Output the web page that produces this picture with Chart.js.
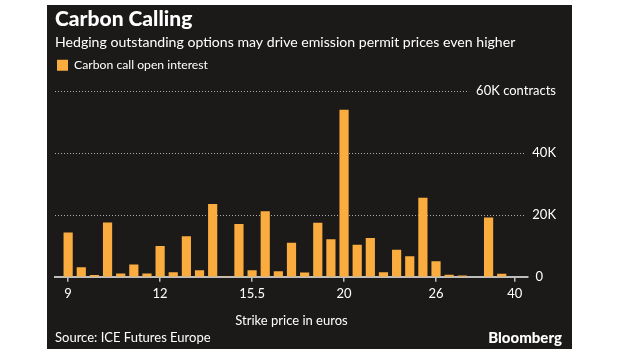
<!DOCTYPE html>
<html><head><meta charset="utf-8">
<script src="https://cdn.jsdelivr.net/npm/chart.js@4"></script>
<style>
html,body{margin:0;padding:0;background:#fff;width:620px;height:355px;overflow:hidden;font-family:Lato,sans-serif}
#box{position:absolute;left:47px;top:5px;width:525px;height:344px;background:#1c1a19}
#c{position:absolute;left:0;top:0}
.foot{position:absolute;color:#fff;font-size:13px;top:324px;line-height:16px}
</style></head><body>
<div id="box"><canvas id="c" width="525" height="344"></canvas>
<div class="foot" style="left:8px">Source: ICE Futures Europe</div>
<div class="foot" style="right:10px;font-weight:900;font-size:15px;font-family:Lato">Bloomberg</div>
</div>
<script>
const strikes = ['9','9.5','10','10.5','11','11.25','11.5','12','12.5','13','13.5','14','14.5','15','15.5','16','16.5','17','17.5','18','19','20','21','22','22.5','23','24','25','26','27','28','30','32','35','40'];
const openInterest = [14300,3100,550,17500,1100,4000,1100,9900,1500,13100,2100,23500,200,17000,2100,21100,1750,11000,1400,17400,12100,53800,10300,12500,1500,8700,6600,25500,5000,650,450,0,19100,1000,0];
const shownStrikes = ['9','12','15.5','20','26','40'];
const yTickValues = [0,20000,40000,60000];
const yTickText = ['0\u2002\u2002','20K','40K','60K contracts'];

const ORANGE = '#FAAC3E';
const FONT = 'Lato';
const LABEL_PAD = 28;
const tickIdx = shownStrikes.map(s => strikes.indexOf(s));
const points = openInterest.map((v, i) => ({x: i, y: v}));

const dots = {
  id: 'dots',
  beforeDatasetsDraw(chart) {
    const y = chart.scales.y, ctx = chart.ctx, area = chart.chartArea;
    ctx.save();
    ctx.font = '13px ' + FONT;
    ctx.strokeStyle = '#adadad';
    ctx.lineWidth = 1;
    ctx.setLineDash([1, 2]);
    y.ticks.forEach(t => {
      if (t.value <= 0) return;
      const py = Math.round(y.getPixelForValue(t.value)) + 0.5;
      const w = ctx.measureText(t.label).width;
      const end = y.left + LABEL_PAD - w - 7;
      ctx.beginPath();
      ctx.moveTo(area.left, py);
      ctx.lineTo(end, py);
      ctx.stroke();
    });
    ctx.restore();
  }
};

new Chart(document.getElementById('c'), {
  type: 'bar',
  data: {datasets: [{label: 'Carbon call open interest', data: points, backgroundColor: ORANGE, borderWidth: 0, barPercentage: 0.7, categoryPercentage: 1}]},
  options: {
    responsive: false, animation: false,
    layout: {padding: {left: 8, right: 44, top: 0, bottom: 20}},
    plugins: {
      title: {display: true, text: 'Carbon Calling', align: 'start', color: '#fff', font: {family: FONT, size: 21, weight: '900'}, padding: {top: 2, bottom: 0}},
      subtitle: {display: true, text: 'Hedging outstanding options may drive emission permit prices even higher', align: 'start', color: '#fff', font: {family: FONT, size: 14.1}, padding: {top: 2, bottom: 6}},
      legend: {align: 'start', labels: {boxWidth: 11, boxHeight: 11, color: '#fff', font: {family: FONT, size: 12.2}, padding: 2}},
      tooltip: {enabled: false}
    },
    scales: {
      x: {type: 'linear', min: -1, max: 35, offset: false,
        afterBuildTicks: s => { s.ticks = tickIdx.map(v => ({value: v})); },
        ticks: {color: '#fff', font: {family: FONT, size: 13}, padding: 4, maxRotation: 0, autoSkip: false, callback: v => strikes[v]},
        grid: {display: true, drawOnChartArea: false, drawTicks: true, tickLength: 5, color: '#bdbdbd', lineWidth: 1.5, offset: false},
        border: {display: true, color: '#bdbdbd', width: 2},
        title: {display: true, text: 'Strike price in euros', color: '#fff', font: {family: FONT, size: 13}, padding: {top: 8, bottom: 0}}
      },
      y: {position: 'right', min: 0, max: 63000,
        afterBuildTicks: s => { s.ticks = yTickValues.map(v => ({value: v})); },
        afterFit: s => { s.width = 0; },
        grid: {display: false}, border: {display: false},
        ticks: {mirror: true, padding: LABEL_PAD, color: '#fff', font: {family: FONT, size: 13}, callback: v => yTickText[yTickValues.indexOf(v)]}
      }
    }
  },
  plugins: [dots]
});
</script>
</body></html>
